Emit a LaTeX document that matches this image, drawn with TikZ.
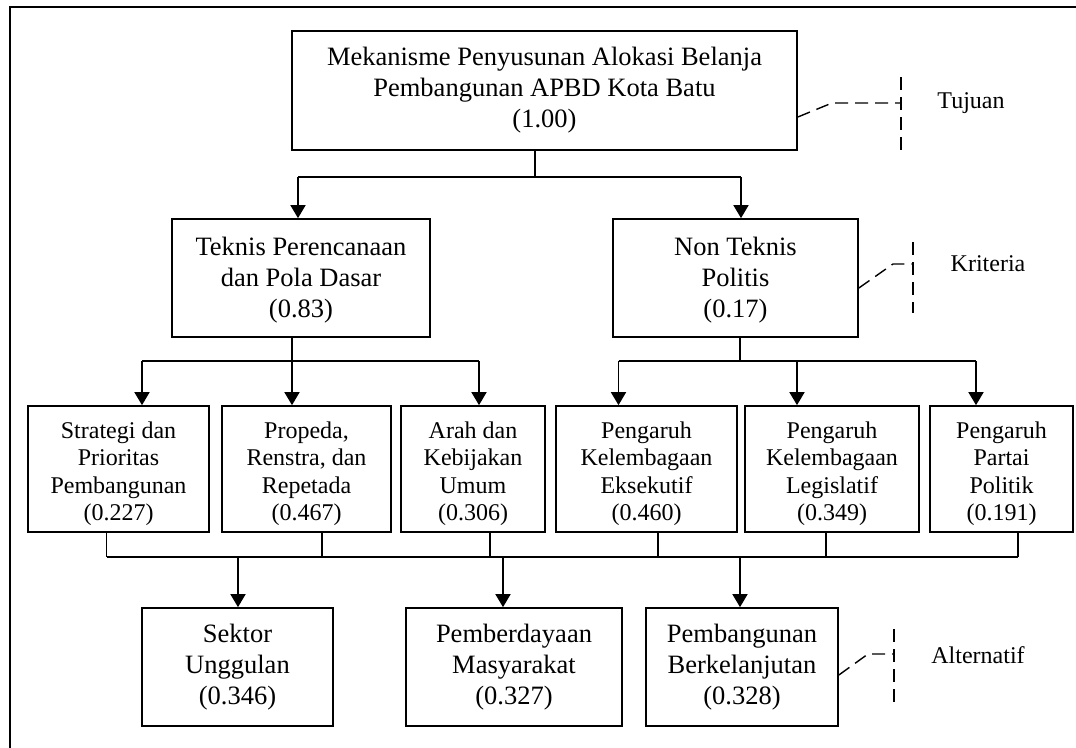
\documentclass[tikz,border=0pt]{standalone}
\usepackage{fontspec}
\setmainfont{Liberation Serif}
\usetikzlibrary{arrows.meta}
% strut pair that fixes the vertical placement of four-line box texts
\newcommand\topstrut{\rule{0pt}{27pt}}
\newcommand\botstrut{\rule[-6pt]{0pt}{6pt}}
\begin{document}
\begin{tikzpicture}[x=1pt,y=-1pt,
  box/.style={draw, line width=1.7pt, align=center, inner sep=0pt,
    font=\fontsize{26.5}{31}\selectfont},
  smallbox/.style={draw, line width=1.7pt, align=center, inner sep=0pt,
    minimum height=126pt, font=\fontsize{24}{27.5}\selectfont},
  wire/.style={line width=1.7pt},
  arr/.style={wire, -{Triangle[width=15pt,length=13pt]}},
  guide/.style={line width=1.4pt, dash pattern=on 13pt off 7pt},
  lvl/.style={font=\fontsize{24}{28}\selectfont}]
\useasboundingbox (0,0) rectangle (1076,747);

% outer frame (runs off the right and bottom edges)
\draw[line width=1.8pt] (1090,7) -- (10,7) -- (10,760);

% goal
\node[box, minimum width=505pt, minimum height=119pt] (goal) at (544.5,90.5)
  {Mekanisme Penyusunan Alokasi Belanja\\Pembangunan APBD Kota Batu\\(1.00)};

% criteria
\node[box, minimum width=258pt, minimum height=118pt] (crit1) at (301,278)
  {\rule{0pt}{22pt}Teknis Perencanaan\\dan Pola Dasar\\(0.83)};
\node[box, minimum width=245pt, minimum height=118pt] (crit2) at (735.5,278)
  {\rule{0pt}{22pt}Non Teknis\\Politis\\(0.17)};

% sub-criteria
\node[smallbox, minimum width=181pt] (s1) at (118.5,469)
  {\topstrut Strategi dan\\Prioritas\\Pembangunan\\(0.227)\botstrut};
\node[smallbox, minimum width=169pt] (s2) at (306.5,469)
  {\topstrut Propeda,\\Renstra, dan\\Repetada\\(0.467)\botstrut};
\node[smallbox, minimum width=144pt] (s3) at (473,469)
  {\topstrut Arah dan\\Kebijakan\\Umum\\(0.306)\botstrut};
\node[smallbox, minimum width=181pt] (s4) at (646.5,469)
  {\topstrut Pengaruh\\Kelembagaan\\Eksekutif\\(0.460)\botstrut};
\node[smallbox, minimum width=174pt] (s5) at (832,469)
  {\topstrut Pengaruh\\Kelembagaan\\Legislatif\\(0.349)\botstrut};
\node[smallbox, minimum width=143pt] (s6) at (1001.5,469)
  {\topstrut Pengaruh\\Partai\\Politik\\(0.191)\botstrut};

% alternatives
\node[box, minimum width=191pt, minimum height=118pt] (a1) at (237.5,667)
  {Sektor\\Unggulan\\(0.346)};
\node[box, minimum width=216pt, minimum height=118pt] (a2) at (514,667)
  {Pemberdayaan\\Masyarakat\\(0.327)};
\node[box, minimum width=192pt, minimum height=118pt] (a3) at (742,667)
  {Pembangunan\\Berkelanjutan\\(0.328)};

% goal -> criteria
\coordinate (busA) at (535,177);
\coordinate (c1) at (298,177);
\coordinate (c2) at (741,177);
\draw[wire] (busA |- goal.south) -- (busA);
\draw[wire] (c1) -- (c2);
\draw[arr] (c1) -- (crit1.north -| c1);
\draw[arr] (c2) -- (crit2.north -| c2);

% criteria -> sub-criteria
\coordinate (busB) at (292,361);
\coordinate (busC) at (740,361);
\coordinate (t1) at (142,361);
\coordinate (t2) at (292,361);
\coordinate (t3) at (479,361);
\coordinate (t4) at (618.5,361);
\coordinate (t5) at (797,361);
\coordinate (t6) at (976,361);
\draw[wire] (busB |- crit1.south) -- (busB);
\draw[wire] (busC |- crit2.south) -- (busC);
\draw[wire] (t1) -- (t3);
\draw[wire] (t4) -- (t6);
\draw[arr] (t1) -- (s1.north -| t1);
\draw[arr] (t2) -- (s2.north -| t2);
\draw[arr] (t3) -- (s3.north -| t3);
\draw[arr] (t4) -- (s4.north -| t4);
\draw[arr] (t5) -- (s5.north -| t5);
\draw[arr] (t6) -- (s6.north -| t6);

% sub-criteria -> alternatives
\coordinate (d1) at ([xshift=-12pt]s1.south);
\coordinate (d2) at ([xshift=15.5pt]s2.south);
\coordinate (d3) at ([xshift=17pt]s3.south);
\coordinate (d4) at ([xshift=11.5pt]s4.south);
\coordinate (d5) at ([xshift=-6pt]s5.south);
\coordinate (d6) at ([xshift=16.5pt]s6.south);
\coordinate (busD) at (600,557);
\draw[wire] (d1 |- busD) -- (d6 |- busD);
\foreach \d in {d1,d2,d3,d4,d5,d6}
  \draw[wire] (\d) -- (\d |- busD);
\coordinate (e1) at (238,557);
\coordinate (e2) at (503,557);
\coordinate (e3) at (740,557);
\draw[arr] (e1) -- (a1.north -| e1);
\draw[arr] (e2) -- (a2.north -| e2);
\draw[arr] (e3) -- (a3.north -| e3);

% level labels with dashed guides
\node[lvl] (lTujuan) at (971,103) {Tujuan};
\coordinate (gT) at (901,103);
\draw[guide] ([yshift=-26.5pt]goal.east) -- (832,103) -- (gT);
\draw[guide] (gT |- 0,77) -- (gT |- 0,150);

\node[lvl] (lKriteria) at (988,264) {Kriteria};
\coordinate (gK) at (913,264);
\draw[guide] ([yshift=-10pt]crit2.east) -- (893,264) -- (gK);
\draw[guide] (gK |- 0,242) -- (gK |- 0,313);

\node[lvl] (lAlternatif) at (978,655) {Alternatif};
\coordinate (gA) at (894,654);
\draw[guide] ([yshift=-8pt]a3.east) -- (868,654) -- (gA);
\draw[guide] (gA |- 0,629) -- (gA |- 0,702);
\end{tikzpicture}
\end{document}
